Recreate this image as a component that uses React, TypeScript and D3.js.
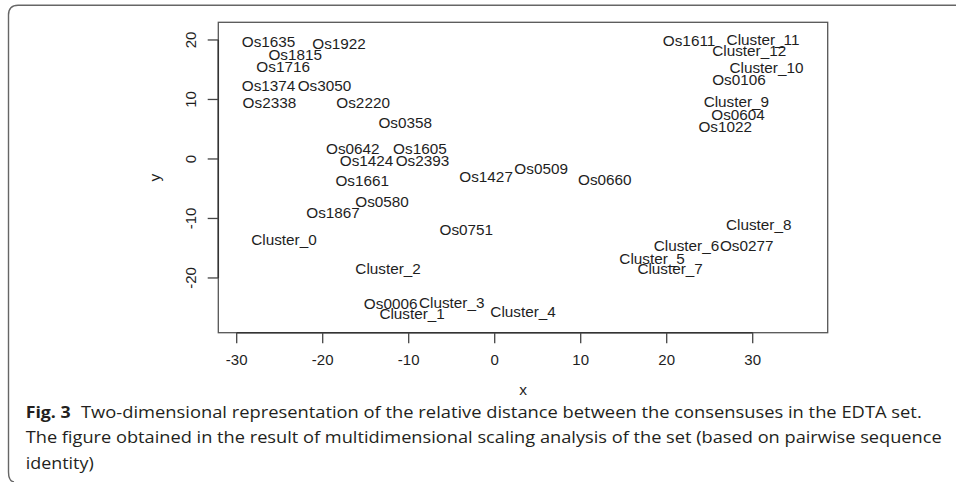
import React from "react";
import * as d3 from "d3";

const labels = [
  "Os1635", "Os1922", "Os1815", "Os1716", "Os1374", "Os3050", "Os2338", "Os2220",
  "Os0358", "Os0642", "Os1605", "Os1424", "Os2393", "Os1661", "Os0580", "Os1867",
  "Cluster_0", "Cluster_2", "Os0006", "Cluster_1", "Cluster_3", "Cluster_4",
  "Os1427", "Os0509", "Os0660", "Os0751",
  "Os1611", "Cluster_11", "Cluster_12", "Cluster_10", "Os0106", "Cluster_9", "Os0604", "Os1022",
  "Cluster_8", "Cluster_6", "Os0277", "Cluster_5", "Cluster_7",
];
const xValues = [
  -26.3, -18.1, -23.2, -24.6, -26.3, -19.8, -26.2, -15.3,
  -10.4, -16.5, -8.7, -14.9, -8.4, -15.4, -13.1, -18.8,
  -24.5, -12.4, -12.1, -9.6, -5.0, 3.3,
  -1.0, 5.4, 12.8, -3.3,
  22.6, 31.2, 29.6, 31.6, 28.4, 28.1, 28.3, 26.8,
  30.7, 22.3, 29.3, 18.3, 20.4,
];
const yValues = [
  19.7, 19.4, 17.6, 15.6, 12.4, 12.4, 9.5, 9.5,
  6.1, 1.8, 1.8, -0.2, -0.2, -3.7, -7.2, -9.0,
  -13.6, -18.4, -24.4, -26.0, -24.1, -25.7,
  -3.0, -1.6, -3.4, -11.8,
  19.9, 20.1, 18.2, 15.3, 13.3, 9.6, 7.4, 5.4,
  -11.0, -14.5, -14.5, -16.7, -18.5,
];
const xTicks = [-30, -20, -10, 0, 10, 20, 30];
const yTicks = [-20, -10, 0, 10, 20];
const xDomain = [-32.14, 38.72];
const yDomain = [-29.2, 22.97];

const captionBold = "Fig. 3";
const captionLine1 = "Two-dimensional representation of the relative distance between the consensuses in the EDTA set.";
const captionLine2 = "The figure obtained in the result of multidimensional scaling analysis of the set (based on pairwise sequence";
const captionLine3 = "identity)";

export default function App() {
  const W = 956, H = 482;
  const left = 218.3, right = 827.7, top = 22.3, bottom = 332.7;
  const x = d3.scaleLinear().domain(xDomain).range([left, right]);
  const y = d3.scaleLinear().domain(yDomain).range([bottom, top]);
  const font = "'Liberation Sans', Arial, Helvetica, sans-serif";
  const capFont = "'Open Sans', 'Noto Sans', sans-serif";
  const ink = "#1e1e1e";
  const capInk = "#231f20";
  const frame = `M${W},5.3 H18 Q8.5,5.3 8.5,15 V472 Q8.5,481 14,482`;

  return (
    <svg width={W} height={H} style={{ position: "absolute", left: 0, top: 0, background: "#fff" }}>
      <rect x={0} y={0} width={W} height={H} fill="#fff" />
      <path d={frame} fill="none" stroke="#666" strokeWidth={1.4} />
      {/* plot box */}
      <rect x={left} y={top} width={right - left} height={bottom - top} fill="none" stroke="#555" strokeWidth={1.3} />
      {/* x axis */}
      <line x1={x(xTicks[0])} x2={x(xTicks[xTicks.length - 1])} y1={bottom} y2={bottom} stroke="#333" strokeWidth={1.5} />
      {xTicks.map((t) => (
        <g key={"xt" + t}>
          <line x1={x(t)} x2={x(t)} y1={bottom} y2={bottom + 10.6} stroke="#444" strokeWidth={1.3} />
          <text x={x(t)} y={359.5} dy="0.35em" textAnchor="middle" fontFamily={font} fontSize={15} fill={ink}>
            {t}
          </text>
        </g>
      ))}
      {/* y axis */}
      <line x1={left} x2={left} y1={y(yTicks[0])} y2={y(yTicks[yTicks.length - 1])} stroke="#333" strokeWidth={1.5} />
      {yTicks.map((t) => (
        <g key={"yt" + t}>
          <line x1={left - 10.6} x2={left} y1={y(t)} y2={y(t)} stroke="#444" strokeWidth={1.3} />
          <text
            transform={`translate(191,${y(t)}) rotate(-90)`}
            dy="0.35em"
            textAnchor="middle"
            fontFamily={font}
            fontSize={15}
            fill={ink}
          >
            {t}
          </text>
        </g>
      ))}
      {/* axis titles */}
      <text x={(left + right) / 2} y={390} dy="0.35em" textAnchor="middle" fontFamily={font} fontSize={15.5} fill={ink}>
        x
      </text>
      <text
        transform={`translate(155,${(top + bottom) / 2}) rotate(-90)`}
        dy="0.35em"
        textAnchor="middle"
        fontFamily={font}
        fontSize={15.5}
        fill={ink}
      >
        y
      </text>
      {/* point labels */}
      {labels.map((lab, i) => (
        <text
          key={lab}
          x={x(xValues[i])}
          y={y(yValues[i])}
          dy="0.35em"
          textAnchor="middle"
          fontFamily={font}
          fontSize={15.3}
          fill={ink}
        >
          {lab}
        </text>
      ))}
      {/* caption */}
      <text x={25.7} y={417.5} fontFamily={capFont} fontWeight="bold" fontSize={16.3} fill={capInk} textLength={45} lengthAdjust="spacingAndGlyphs">
        {captionBold}
      </text>
      <text x={81} y={417.5} fontFamily={capFont} fontSize={16.3} fill={capInk} textLength={840.7} lengthAdjust="spacingAndGlyphs">
        {captionLine1}
      </text>
      <text x={25.7} y={443.2} fontFamily={capFont} fontSize={16.3} fill={capInk} textLength={916} lengthAdjust="spacingAndGlyphs">
        {captionLine2}
      </text>
      <text x={25.7} y={468.6} fontFamily={capFont} fontSize={16.3} fill={capInk} textLength={68} lengthAdjust="spacingAndGlyphs">
        {captionLine3}
      </text>
    </svg>
  );
}
